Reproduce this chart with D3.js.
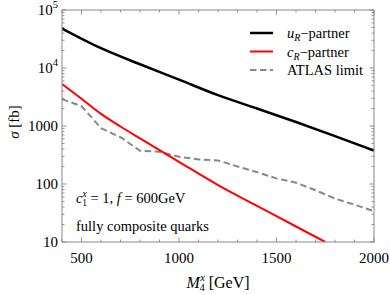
<!DOCTYPE html>
<html>
<head>
<meta charset="utf-8">
<script src="https://cdn.jsdelivr.net/npm/d3@7"></script>
<style>
  body { margin: 0; background: #fff; }
  text { font-family: "Liberation Serif", "DejaVu Serif", serif; fill: #000; }
</style>
</head>
<body>
<svg id="chart" width="390" height="295"></svg>
<script>
(function () {
    'use strict';

    // masses in GeV
    var uMass = [400, 600, 800, 1000, 1200, 1400, 1600, 1800, 2000];
    var uSigma = [48000, 22000, 11600, 6300, 3400, 2000, 1170, 670, 375];

    var cMass = [400, 500, 600, 700, 800, 1000, 1200, 1400, 1600, 1750];
    var cSigma = [5300, 2950, 1620, 980, 610, 240, 96, 42, 18.5, 10];

    var atlasMass = [400, 500, 600, 700, 800, 900, 1000, 1100, 1200, 1300, 1400, 1500, 1600, 1700, 1800, 1900, 2000];
    var atlasSigma = [2900, 2200, 920, 640, 375, 360, 295, 265, 255, 200, 160, 125, 105, 78, 56, 44, 34];

    var xTicks = [500, 1000, 1500, 2000];
    var yTicks = [10, 100, 1000, 10000, 100000];

    var margin = { top: 10, right: 16, bottom: 53, left: 62 },
        width = 390 - margin.left - margin.right,
        height = 295 - margin.top - margin.bottom;

    var svg = d3.select('#chart');

    var x = d3.scaleLinear().domain([400, 2000]).range([0, width]);
    var y = d3.scaleLog().domain([10, 100000]).range([height, 0]);

    svg.append('defs').append('clipPath').attr('id', 'clip')
        .append('rect').attr('width', width).attr('height', height);

    var g = svg.append('g').attr('transform', 'translate(' + margin.left + ',' + margin.top + ')');

    // minor ticks
    var xMinor = d3.range(400, 2001, 100);
    var yMinor = [];
    [10, 100, 1000, 10000].forEach(function (d) {
        for (var k = 2; k < 10; k++) yMinor.push(d * k);
    });

    function tickLen(major) { return major ? 4.5 : 2.5; }

    var tickColor = '#777';

    // bottom and top x ticks
    xMinor.forEach(function (v) {
        var major = xTicks.indexOf(v) >= 0;
        var px = x(v);
        g.append('line').attr('x1', px).attr('x2', px).attr('y1', height).attr('y2', height - tickLen(major))
            .attr('stroke', tickColor).attr('stroke-width', 0.8);
        g.append('line').attr('x1', px).attr('x2', px).attr('y1', 0).attr('y2', tickLen(major))
            .attr('stroke', tickColor).attr('stroke-width', 0.8);
    });

    yTicks.concat(yMinor).forEach(function (v) {
        var major = yTicks.indexOf(v) >= 0;
        var py = y(v);
        g.append('line').attr('x1', 0).attr('x2', tickLen(major)).attr('y1', py).attr('y2', py)
            .attr('stroke', tickColor).attr('stroke-width', 0.8);
        g.append('line').attr('x1', width).attr('x2', width - tickLen(major)).attr('y1', py).attr('y2', py)
            .attr('stroke', tickColor).attr('stroke-width', 0.8);
    });

    // curves
    var plot = g.append('g').attr('clip-path', 'url(#clip)');

    function makeLine(xs) {
        return d3.line()
            .x(function (d, i) { return x(xs[i]); })
            .y(function (d) { return y(d); });
    }

    plot.append('path').datum(atlasSigma)
        .attr('d', makeLine(atlasMass).curve(d3.curveLinear))
        .attr('fill', 'none').attr('stroke', '#888').attr('stroke-width', 2)
        .attr('stroke-dasharray', '6.5,3.5');

    plot.append('path').datum(cSigma)
        .attr('d', makeLine(cMass).curve(d3.curveMonotoneX))
        .attr('fill', 'none').attr('stroke', '#f00').attr('stroke-width', 2);

    plot.append('path').datum(uSigma)
        .attr('d', makeLine(uMass).curve(d3.curveMonotoneX))
        .attr('fill', 'none').attr('stroke', '#000').attr('stroke-width', 2.5);

    // frame
    g.append('rect').attr('width', width).attr('height', height)
        .attr('fill', 'none').attr('stroke', '#888').attr('stroke-width', 1);

    // x tick labels
    g.selectAll('.xlab').data(xTicks).enter().append('text')
        .attr('x', function (d) { return x(d); })
        .attr('y', height + 21)
        .attr('text-anchor', 'middle')
        .style('font-size', '15px')
        .text(function (d) { return d; });

    // y tick labels
    yTicks.forEach(function (v) {
        var t = g.append('text')
            .attr('x', -4).attr('y', y(v) + 5)
            .attr('text-anchor', 'end')
            .style('font-size', '15px');
        if (v >= 10000) {
            t.append('tspan').text('10');
            t.append('tspan').attr('dy', -7).style('font-size', '10.5px').text(Math.round(Math.log10(v)));
        } else {
            t.text(v);
        }
    });

    // axis titles
    var xt = svg.append('text')
        .attr('x', margin.left + width / 2).attr('y', 288)
        .attr('text-anchor', 'middle')
        .style('font-size', '16px');
    xt.append('tspan').style('font-style', 'italic').text('M');
    xt.append('tspan').attr('dy', -7).attr('dx', 0.5).style('font-size', '10.5px').style('font-style', 'italic').text('x');
    xt.append('tspan').attr('dy', 10).attr('dx', -5.5).style('font-size', '10.5px').text('4');
    xt.append('tspan').attr('dy', -3).text(' [GeV]');

    var yt = svg.append('text')
        .attr('transform', 'translate(19,' + (margin.top + height / 2 - 4) + ') rotate(-90)')
        .attr('text-anchor', 'middle')
        .style('font-size', '15px');
    yt.append('tspan').style('font-style', 'italic').text('σ');
    yt.append('tspan').text(' [fb]');

    // legend
    var legend = [
        { name: 'u', color: '#000', dash: null, width: 2.5 },
        { name: 'c', color: '#f00', dash: null, width: 2 },
        { name: 'ATLAS limit', color: '#888', dash: '6.5,3.5', width: 2 }
    ];
    legend.forEach(function (d, i) {
        var ly = 23 + i * 18.5;
        g.append('line')
            .attr('x1', 188).attr('x2', 211).attr('y1', ly).attr('y2', ly)
            .attr('stroke', d.color).attr('stroke-width', d.width)
            .attr('stroke-dasharray', d.dash);
        var t = g.append('text').attr('x', 225).attr('y', ly + 5).style('font-size', '14.5px');
        if (i < 2) {
            t.append('tspan').style('font-style', 'italic').text(d.name);
            t.append('tspan').attr('dy', 3).style('font-size', '10px').style('font-style', 'italic').text('R');
            t.append('tspan').attr('dy', -3).text('\u2212partner');
        } else {
            t.text(d.name);
        }
    });

    // annotation
    var a1 = g.append('text').attr('x', 14).attr('y', 193).style('font-size', '14.5px');
    a1.append('tspan').style('font-style', 'italic').text('c');
    a1.append('tspan').attr('dy', -6).style('font-size', '9.5px').style('font-style', 'italic').text('x');
    a1.append('tspan').attr('dy', 9).attr('dx', -4.5).style('font-size', '9.5px').text('1');
    a1.append('tspan').attr('dy', -3).text(' = 1, ');
    a1.append('tspan').style('font-style', 'italic').text('f');
    a1.append('tspan').text(' = 600GeV');

    g.append('text').attr('x', 14).attr('y', 221).style('font-size', '14.5px').text('fully composite quarks');
})();
</script>
</body>
</html>
